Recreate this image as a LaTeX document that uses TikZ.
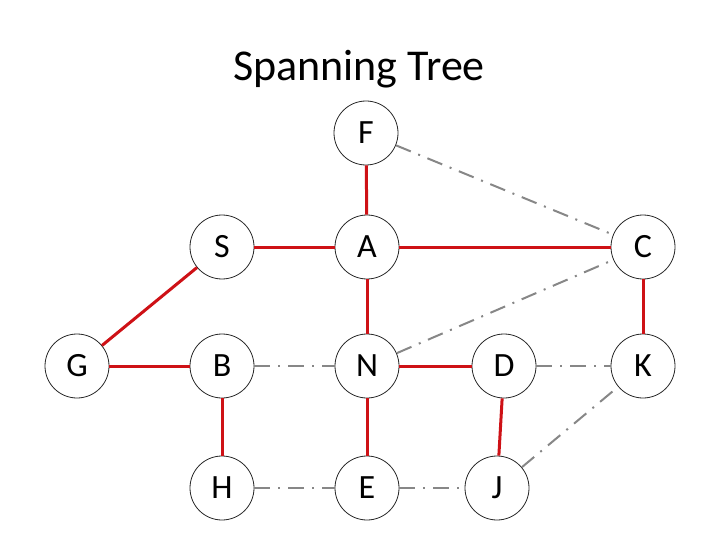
\documentclass[tikz,border=0pt]{standalone}
\usepackage{fontspec}
\setmainfont{Carlito}
\begin{document}
\begin{tikzpicture}[x=1pt,y=-1pt,
  vert/.style={circle,draw=black!85,line width=0.8pt,fill=white,minimum size=64pt,inner sep=0pt,font=\fontsize{34}{34}\selectfont},
  tree/.style={draw={rgb,255:red,206;green,17;blue,22},line width=3pt},
  other/.style={draw={rgb,255:red,135;green,135;blue,135},line width=2pt,dash pattern=on 16pt off 8pt on 2pt off 8pt}]
\useasboundingbox (0,0) rectangle (720,540);
\node[anchor=base,font=\fontsize{44}{44}\selectfont] (title) at (359,81) {Spanning Tree};
\node[vert] (F) at (366,133) {F};
\node[vert] (S) at (222,247) {S};
\node[vert] (A) at (367,247) {A};
\node[vert] (C) at (643,247) {C};
\node[vert] (G) at (77,366) {G};
\node[vert] (B) at (222,366) {B};
\node[vert] (N) at (367,366) {N};
\node[vert] (D) at (504,366) {D};
\node[vert] (K) at (643,366) {K};
\node[vert] (H) at (222,488) {H};
\node[vert] (E) at (367,488) {E};
\node[vert] (J) at (497,488) {J};
\path[tree] (F) -- (A);
\path[tree] (S) -- (A);
\path[tree] (A) -- (C);
\path[tree] (S) -- (G);
\path[tree] (A) -- (N);
\path[tree] (G) -- (B);
\path[tree] (B) -- (H);
\path[tree] (N) -- (D);
\path[tree] (N) -- (E);
\path[tree] (C) -- (K);
\path[tree] (D) -- (J);
\path[other] (F) -- (C);
\path[other] (N) -- (C);
\path[other] (B) -- (N);
\path[other] (D) -- (K);
\path[other] (J) -- (K);
\path[other] (H) -- (E);
\path[other] (E) -- (J);
\end{tikzpicture}
\end{document}
